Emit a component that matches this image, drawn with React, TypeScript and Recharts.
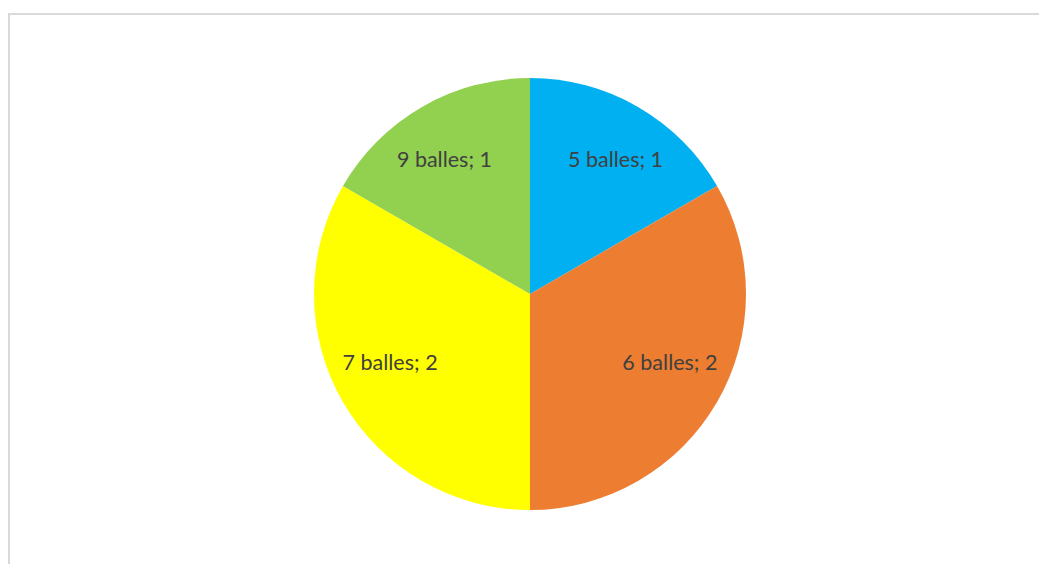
import { PieChart, Pie, Cell } from "recharts";

const categories = ["5 balles", "6 balles", "7 balles", "9 balles"];
const counts = [1, 2, 2, 1];
const colors = ["#00B0F0", "#ED7D31", "#FFFF00", "#92D050"];

const data = categories.map((name, i) => ({ name, value: counts[i] }));

const RADIAN = Math.PI / 180;

// inside labels, pulled slightly toward the horizontal like Excel's best fit
const renderLabel = (props: any) => {
  const { cx, cy, midAngle, outerRadius, name, value } = props;
  const s = Math.sign(Math.sin(midAngle * RADIAN)) * Math.sign(Math.cos(midAngle * RADIAN));
  const a = (midAngle - 3 * s) * RADIAN;
  const r = outerRadius * 0.727;
  const x = cx + r * Math.cos(a);
  const y = cy - r * Math.sin(a) - 3;
  return (
    <text
      x={x}
      y={y}
      fill="#404040"
      fontSize={21.5}
      fontFamily="Lato, 'Open Sans', sans-serif"
      textAnchor="middle"
      dominantBaseline="central"
    >
      {`${name}; ${value}`}
    </text>
  );
};

export default function App() {
  return (
    <div
      style={{
        position: "fixed",
        left: 0,
        top: 0,
        width: 1039,
        height: 564,
        overflow: "hidden",
        background: "#fff",
      }}
    >
      <div
        style={{
          position: "absolute",
          left: 8,
          top: 13,
          width: 1040,
          height: 560,
          border: "2px solid #d9d9d9",
        }}
      >
        <PieChart width={1040} height={560}>
          <Pie
            data={data}
            dataKey="value"
            nameKey="name"
            cx={515}
            cy={274}
            outerRadius={216}
            startAngle={90}
            endAngle={-270}
            stroke="none"
            label={renderLabel}
            labelLine={false}
            isAnimationActive={false}
          >
            {data.map((d, i) => (
              <Cell key={d.name} fill={colors[i]} />
            ))}
          </Pie>
        </PieChart>
      </div>
    </div>
  );
}
